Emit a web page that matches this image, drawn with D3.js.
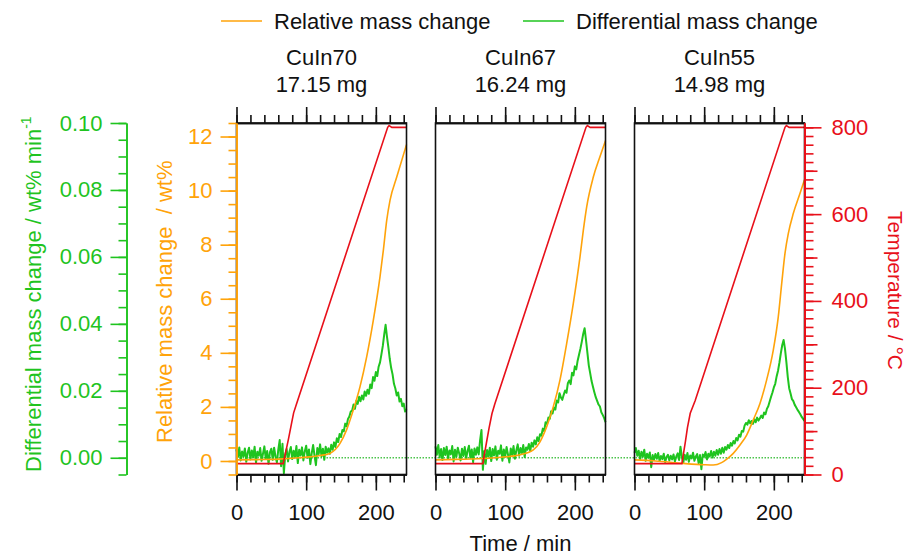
<!DOCTYPE html>
<html>
<head>
<meta charset="utf-8">
<script src="https://cdn.jsdelivr.net/npm/d3@7/dist/d3.min.js"></script>
<style>
  body { margin: 0; background: #fff; }
  svg text { font-family: "Liberation Sans", Arial, sans-serif; }
</style>
</head>
<body>
<div id="chart"></div>
<script>
// samples shown in the three panels
var samples = ["CuIn70", "CuIn67", "CuIn55"];
var sampleMass = ["17.15 mg", "16.24 mg", "14.98 mg"];

// relative mass change, [time / min, wt%]
var relMass70 = [[0,0.04],[30,0.05],[60,0.07],[90,0.12],[120,0.2],[134,0.28],[148.6,0.65],[158,1.15],[167.7,1.89],[177.3,2.75],[186.9,3.86],[196.4,5.21],[206,6.82],[210.8,7.8],[215.6,8.9],[220.4,9.65],[230,10.5],[244,11.7]];
var relMass67 = [[0,0.04],[30,0.06],[60,0.08],[90,0.13],[120,0.22],[140.4,0.41],[150,0.71],[159.6,1.27],[169,2.0],[178.7,3.0],[188.3,4.35],[197.8,5.83],[207.4,7.55],[212.2,8.54],[217,9.4],[226.5,10.5],[236,11.25],[244,11.85]];
var relMass55 = [[0,0.04],[30,0.0],[70,-0.09],[100,-0.14],[113,-0.15],[125,-0.06],[132,0.06],[141.8,0.28],[151.4,0.59],[161,0.96],[170.5,1.52],[180.1,2.13],[189.7,3.0],[199.2,4.1],[206.4,5.34],[211.3,6.57],[216,7.68],[220.8,8.42],[228,9.16],[237.6,9.9],[244,10.4]];

// temperature, [time / min, degC]
var temp70 = [[0,25],[67,25],[69,40],[72,62],[75,85],[79,118],[82,142],[86,162],[217,800],[219,804],[223,800],[244,800]];
var temp67 = [[0,25],[68,25],[70,45],[73,72],[77,108],[81,140],[85,162],[216,800],[218,804],[222,800],[244,800]];
var temp55 = [[0,25],[68,25],[70,45],[73,75],[76,108],[80,141],[87,170],[216,800],[218,804],[222,800],[244,800]];

// differential mass change, one reading every dtgStep min, in 0.001 wt% min-1
var dtgStep = 2;
var dtg70 = [2.5,0.2,3.1,-0.8,1.9,0.4,2.8,-1.2,1.5,3.0,-0.5,2.2,0.1,3.3,-1.5,1.8,0.6,2.9,-0.9,1.2,3.4,-0.3,2.0,-1.8,1.6,2.7,-0.6,3.0,0.3,-1.4,2.4,
  5.3,-2.5,4.2,-4.6,1.0,
  2.6,-1.1,1.8,3.2,-0.4,2.1,0.2,3.5,-1.6,2.4,0.7,3.1,-0.8,1.9,3.6,0.0,2.5,-1.9,1.4,3.8,0.6,-2.2,2.9,1.1,4.0,0.4,2.7,-0.6,3.3,1.5,
  2.8,1.2,3.9,2.4,4.6,3.2,5.8,4.7,7.1,6.2,8.3,7.9,10.2,9.4,11.6,
  12.3,13.8,14.1,15.9,14.6,17.0,16.1,18.2,16.9,18.6,17.4,19.8,18.5,20.3,19.1,
  21.9,20.8,24.1,23.0,25.6,24.4,27.2,28.5,30.9,33.4,36.8,39.7,
  36.1,33.0,29.5,26.8,24.9,22.1,20.7,18.6,19.5,16.8,17.6,15.4,16.2,13.8,14.5];
var dtg67 = [3.4,0.9,3.8,0.1,2.6,-0.7,2.9,0.8,3.3,-0.4,2.2,1.0,3.5,-1.1,2.4,0.3,3.0,1.3,-0.8,2.7,0.5,3.2,-0.2,2.0,3.6,0.0,2.5,-1.3,2.8,0.9,3.1,
  1.0,5.2,8.3,-3.6,2.0,
  -1.8,2.3,0.4,3.0,-1.0,2.6,0.7,3.4,-0.6,2.1,1.2,3.7,-0.9,2.5,0.3,3.2,1.0,-1.4,2.8,0.8,3.5,-0.3,2.2,4.0,0.6,2.9,1.4,3.8,0.2,3.1,
  2.4,4.1,2.0,4.5,3.3,5.2,4.0,6.1,5.0,7.0,6.6,8.7,8.0,10.6,10.1,
  12.0,11.6,13.9,13.2,15.0,14.4,17.1,16.5,19.3,18.0,17.3,18.8,20.1,19.4,22.3,
  23.1,22.0,25.4,24.6,27.3,26.4,29.0,30.8,32.6,34.7,37.0,38.7,
  35.2,31.4,27.6,25.3,22.9,21.2,19.6,18.1,17.0,15.9,15.3,13.6,12.8,11.9,10.6];
var dtg55 = [1.5,2.9,0.6,2.1,-0.4,1.8,0.3,2.4,-0.9,1.2,0.0,1.6,-2.8,0.8,-0.6,1.1,-0.3,1.4,-1.0,0.5,-0.4,1.2,-1.3,0.2,0.9,-0.8,0.6,-0.5,1.0,-1.1,0.4,
  1.3,-0.7,3.3,0.2,-1.5,
  0.9,-0.6,1.4,-1.2,0.7,-0.2,1.5,-0.9,0.4,1.1,-1.6,0.8,-3.4,1.0,0.3,1.7,-0.5,1.2,0.4,2.0,0.1,1.8,0.6,2.3,0.9,2.6,1.2,3.0,1.5,3.2,
  2.4,3.8,2.9,4.4,3.6,5.0,4.3,5.9,5.2,6.9,6.3,8.0,7.8,9.6,10.4,
  9.9,11.2,10.3,11.0,10.1,11.5,10.6,12.0,11.1,11.8,12.6,11.9,13.5,13.0,14.6,
  15.4,16.8,18.2,19.5,21.0,22.1,24.3,26.0,28.4,31.2,33.6,35.2,
  32.5,28.6,24.1,20.8,19.2,17.5,16.9,15.8,15.1,14.3,13.7,13.0,12.2,11.6,11.0];

// tick labels
var timeTicks = [0, 100, 200];
var relTicks = [0, 2, 4, 6, 8, 10, 12];
var dtgTicks = [0, 0.02, 0.04, 0.06, 0.08, 0.10];
var tempTicks = [0, 200, 400, 600, 800];

var relMass = [relMass70, relMass67, relMass55];
var temps = [temp70, temp67, temp55];
var dtgs = [dtg70, dtg67, dtg55];

var orange = "#ffa30a", green = "#1fc41f", red = "#e8101a", ink = "#111";
var width = 909, height = 555;
var top0 = 123, bottom0 = 474.5;
var panelLeft = [236.5, 435.5, 634.5], panelW = 170;

var svg = d3.select("#chart")
  .append("svg")
    .attr("width", width)
    .attr("height", height);

// scales
var x = d3.scaleLinear().domain([0, 244]).range([0, panelW]);
var yRel = d3.scaleLinear().domain([-0.5, 12.5]).range([bottom0, top0]);
var yDtg = d3.scaleLinear().domain([-0.005, 0.1]).range([bottom0, top0]);
var yTemp = d3.scaleLinear().domain([0, 810]).range([bottom0, top0]);

// dotted zero line of the differential curve, across all panels
svg.append("line")
  .attr("x1", panelLeft[0]).attr("x2", panelLeft[2] + panelW)
  .attr("y1", yDtg(0)).attr("y2", yDtg(0))
  .attr("stroke", "#4cc44c")
  .attr("stroke-width", 1.5)
  .attr("stroke-dasharray", "1.5,1.5");

var relLine = d3.line().x(function(d){ return x(d[0]) }).y(function(d){ return yRel(d[1]) }).curve(d3.curveMonotoneX);
var tempLine = d3.line().x(function(d){ return x(d[0]) }).y(function(d){ return yTemp(d[1]) });
var dtgLine = d3.line().x(function(d, i){ return x(i * dtgStep) }).y(function(d){ return yDtg(d / 1000) });

function styleAxis(g, color, size) {
  g.select(".domain").attr("stroke", color).attr("stroke-width", 1.6);
  g.selectAll(".tick line").attr("stroke", color).attr("stroke-width", 1.6);
  g.selectAll(".tick text").attr("fill", color).attr("font-size", size)
    .attr("font-family", '"Liberation Sans", Arial, sans-serif');
  g.attr("font-family", null);
}

samples.forEach(function(name, k) {
  var p = svg.append("g").attr("transform", "translate(" + panelLeft[k] + ",0)");

  p.append("path").datum(dtgs[k])
    .attr("d", dtgLine).attr("fill", "none")
    .attr("stroke", green).attr("stroke-width", 2).attr("stroke-linejoin", "round");
  p.append("path").datum(relMass[k])
    .attr("d", relLine).attr("fill", "none")
    .attr("stroke", orange).attr("stroke-width", 1.6);
  p.append("path").datum(temps[k])
    .attr("d", tempLine).attr("fill", "none")
    .attr("stroke", red).attr("stroke-width", 1.6);

  // frame
  p.append("rect")
    .attr("x", 0).attr("y", top0)
    .attr("width", panelW).attr("height", bottom0 - top0)
    .attr("fill", "none").attr("stroke", ink).attr("stroke-width", 1.6);

  // time axes, bottom with labels and top mirrored
  var gb = p.append("g").attr("transform", "translate(0," + bottom0 + ")")
    .call(d3.axisBottom(x).tickValues(d3.range(0, 245, 20)).tickSize(8).tickSizeOuter(0).tickFormat(""));
  styleAxis(gb, ink, 22);
  var gb2 = p.append("g").attr("transform", "translate(0," + bottom0 + ")")
    .call(d3.axisBottom(x).tickValues(timeTicks).tickSize(16).tickSizeOuter(0).tickPadding(14));
  styleAxis(gb2, ink, 22);
  var gt = p.append("g").attr("transform", "translate(0," + top0 + ")")
    .call(d3.axisTop(x).tickValues(d3.range(0, 245, 20)).tickSize(8).tickSizeOuter(0).tickFormat(""));
  styleAxis(gt, ink, 22);
  var gt2 = p.append("g").attr("transform", "translate(0," + top0 + ")")
    .call(d3.axisTop(x).tickValues(timeTicks).tickSize(16).tickSizeOuter(0).tickFormat(""));
  styleAxis(gt2, ink, 22);

  // panel title
  p.append("text").attr("x", panelW / 2).attr("y", 65)
    .attr("text-anchor", "middle").attr("font-size", 22).attr("fill", ink).text(name);
  p.append("text").attr("x", panelW / 2).attr("y", 92)
    .attr("text-anchor", "middle").attr("font-size", 22).attr("fill", ink).text(sampleMass[k]);
});

// differential mass change axis (green, far left)
var ga = svg.append("g").attr("transform", "translate(126.5,0)")
  .call(d3.axisLeft(yDtg).tickValues(d3.range(-0.005, 0.1001, 0.005)).tickSize(8).tickSizeOuter(0).tickFormat(""));
styleAxis(ga, green, 22);
var ga2 = svg.append("g").attr("transform", "translate(126.5,0)")
  .call(d3.axisLeft(yDtg).tickValues(dtgTicks).tickSize(16).tickSizeOuter(0).tickPadding(8).tickFormat(d3.format(".2f")));
styleAxis(ga2, green, 22);

// relative mass change axis (orange, on panel 1)
var gr = svg.append("g").attr("transform", "translate(" + panelLeft[0] + ",0)")
  .call(d3.axisLeft(yRel).tickValues(d3.range(-0.5, 12.51, 0.5)).tickSize(8).tickSizeOuter(0).tickFormat(""));
styleAxis(gr, orange, 22);
var gr2 = svg.append("g").attr("transform", "translate(" + panelLeft[0] + ",0)")
  .call(d3.axisLeft(yRel).tickValues(relTicks).tickSize(16).tickSizeOuter(0).tickPadding(8));
styleAxis(gr2, orange, 22);

// temperature axis (red, right of panel 3)
var tx = panelLeft[2] + panelW;
var gT = svg.append("g").attr("transform", "translate(" + tx + ",0)")
  .call(d3.axisRight(yTemp).tickValues(d3.range(0, 801, 20)).tickSize(9).tickSizeOuter(0).tickFormat(""));
styleAxis(gT, red, 22);
var gT1 = svg.append("g").attr("transform", "translate(" + tx + ",0)")
  .call(d3.axisRight(yTemp).tickValues([100, 300, 500, 700]).tickSize(13).tickSizeOuter(0).tickFormat(""));
styleAxis(gT1, red, 22);
var gT2 = svg.append("g").attr("transform", "translate(" + tx + ",0)")
  .call(d3.axisRight(yTemp).tickValues(tempTicks).tickSize(17).tickSizeOuter(0).tickPadding(10));
styleAxis(gT2, red, 22);

// axis titles
var dt = svg.append("text")
  .attr("transform", "translate(41,472) rotate(-90)")
  .attr("font-size", 22).attr("fill", green);
dt.append("tspan").text("Differential mass change / wt% min");
dt.append("tspan").attr("dy", -10).attr("font-size", 14).text("-1");

svg.append("text")
  .attr("transform", "translate(172,443) rotate(-90)")
  .attr("font-size", 22).attr("fill", orange)
  .style("white-space", "pre")
  .text("Relative mass change  / wt%");

svg.append("text")
  .attr("transform", "translate(888,211) rotate(90)")
  .attr("font-size", 21).attr("fill", red)
  .text("Temperature / °C");

svg.append("text")
  .attr("x", (panelLeft[0] + tx) / 2).attr("y", 551)
  .attr("text-anchor", "middle").attr("font-size", 22).attr("fill", ink)
  .text("Time / min");

// legend
var legend = [["Relative mass change", orange, 221], ["Differential mass change", green, 523]];
legend.forEach(function(l) {
  svg.append("line")
    .attr("x1", l[2]).attr("x2", l[2] + 41).attr("y1", 21).attr("y2", 21)
    .attr("stroke", l[1]).attr("stroke-width", 1.6);
  svg.append("text")
    .attr("x", l[2] + 53).attr("y", 29)
    .attr("font-size", 22).attr("fill", ink)
    .text(l[0]);
});
</script>
</body>
</html>
